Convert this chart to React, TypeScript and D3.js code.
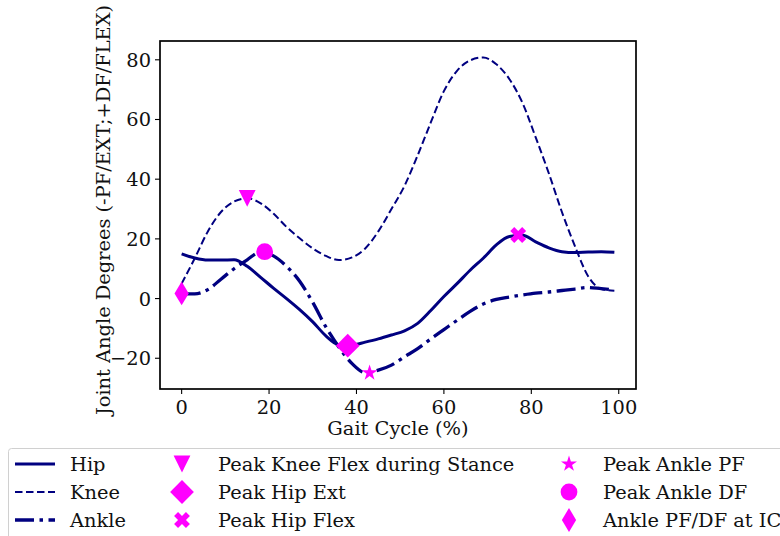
import React from 'react';
import * as d3 from 'd3';

// gait cycle samples (%) and joint angles
const gaitPct = [0, 3, 6, 9, 12, 15, 18, 21, 24, 27, 30, 33, 36, 39, 42, 45, 48, 51, 54, 57, 60, 63, 66, 69, 72, 75, 78, 81, 84, 87, 90, 93, 96, 99];
const hipAngle = [15.0, 13.6, 12.9, 12.9, 13.0, 10.8, 7.2, 3.5, 0.0, -3.7, -7.8, -12.5, -15.5, -15.6, -14.6, -13.5, -12.2, -10.8, -8.3, -4.0, 0.7, 5.0, 9.5, 13.5, 18.0, 20.8, 21.2, 19.0, 17.0, 15.7, 15.4, 15.6, 15.7, 15.5];
const kneeAngle = [5.0, 13.5, 22.5, 29.0, 32.5, 33.6, 32.0, 28.5, 24.0, 20.2, 16.8, 14.3, 12.9, 13.8, 16.8, 22.5, 30.0, 37.8, 48.0, 59.0, 69.5, 76.3, 79.8, 80.8, 78.5, 73.5, 65.5, 54.0, 42.0, 29.0, 17.5, 7.5, 3.2, 2.6];
const ankleAngle = [1.6, 1.6, 3.0, 6.5, 10.0, 13.0, 15.6, 14.3, 10.8, 5.8, -1.3, -9.5, -16.3, -21.8, -24.8, -24.0, -22.3, -19.5, -16.8, -13.5, -10.4, -7.3, -4.3, -1.8, -0.3, 0.5, 1.2, 1.8, 2.2, 2.7, 3.2, 3.7, 3.3, 2.9];

const xTicks = [0, 20, 40, 60, 80, 100];
const yTicks = [-20, 0, 20, 40, 60, 80];

// event markers
const eventNames = ['Peak Knee Flex during Stance', 'Peak Hip Ext', 'Peak Hip Flex', 'Peak Ankle PF', 'Peak Ankle DF', 'Ankle PF/DF at IC'];
const eventKinds = ['v', 'D', 'X', '*', 'o', 'd'];
const eventX = [15, 38, 77, 43, 19, 0];
const eventY = [33.6, -15.8, 21.3, -24.9, 15.7, 1.7];

const W = 780, H = 536;
const margin = { top: 41, right: 144, bottom: 147, left: 160 };
const NAVY = '#000080';
const MAGENTA = '#ff00ff';
const FONT = 'DejaVu Serif';
const FS = 19.4;

const markerPath = (kind: string, h: number): string => {
  const r = h * Math.SQRT2;
  if (kind === 'v') return `M0,${h}L${-h},${-h}L${h},${-h}Z`;
  if (kind === 'D') return `M0,${-r}L${r},0L0,${r}L${-r},0Z`;
  if (kind === 'd') return `M0,${-r}L${r * 0.6},0L0,${r}L${-r * 0.6},0Z`;
  if (kind === 'X') {
    const s = (2 * h) / 6;
    const pts = [[-1, -3], [1, -3], [1, -1], [3, -1], [3, 1], [1, 1], [1, 3], [-1, 3], [-1, 1], [-3, 1], [-3, -1], [-1, -1]]
      .map(([a, b]) => [(a * s - b * s) / Math.SQRT2, (a * s + b * s) / Math.SQRT2]);
    return 'M' + pts.map(p => p.join(',')).join('L') + 'Z';
  }
  if (kind === '*') return d3.symbol(d3.symbolStar, (h * h) / 0.8908130915)() as string;
  return d3.symbol(d3.symbolCircle, Math.PI * h * h)() as string;
};

const series = [
  { name: 'Hip', values: hipAngle, width: 3, dash: undefined as string | undefined },
  { name: 'Knee', values: kneeAngle, width: 2, dash: '7.5,3.5' },
  { name: 'Ankle', values: ankleAngle, width: 3.3, dash: '19,5.5,3.5,5.5' },
];

export default function App() {
  const x = d3.scaleLinear().domain([-4.95, 103.95]).range([margin.left, W - margin.right]);
  const y = d3.scaleLinear().domain([-30.3, 86.3]).range([H - margin.bottom, margin.top]);

  const line = (vals: number[]) =>
    d3.line<number>()
      .x((_, i) => x(gaitPct[i]))
      .y(d => y(d))
      .curve(d3.curveMonotoneX)(vals) as string;

  const x0 = margin.left, x1 = W - margin.right, y0 = margin.top, y1 = H - margin.bottom;
  const half = 8.4;
  const rowY = [464, 492, 520];

  return (
    <svg width={W} height={H} style={{ position: 'absolute', left: 0, top: 0, background: '#fff' }} fontFamily={FONT}>
      <rect x={0} y={0} width={W} height={H} fill="#fff" />

      {series.map(s => (
        <path key={s.name} d={line(s.values)} fill="none" stroke={NAVY} strokeWidth={s.width}
          strokeDasharray={s.dash} strokeLinejoin="round" />
      ))}

      {eventNames.map((n, i) => (
        <path key={n} d={markerPath(eventKinds[i], half)} fill={MAGENTA}
          transform={`translate(${x(eventX[i])},${y(eventY[i])})`} />
      ))}

      {/* frame */}
      <rect x={x0} y={y0} width={x1 - x0} height={y1 - y0} fill="none" stroke="#000" strokeWidth={1.7} />

      {/* x axis */}
      {xTicks.map(t => (
        <g key={t} transform={`translate(${x(t)},0)`}>
          <line y1={y1} y2={y1 + 5} stroke="#000" strokeWidth={1.1} />
          <text y={414} textAnchor="middle" fontSize={FS} fill="#111">{t}</text>
        </g>
      ))}
      <text x={(x0 + x1) / 2} y={435} textAnchor="middle" fontSize={FS} fill="#111">Gait Cycle (%)</text>

      {/* y axis */}
      {yTicks.map(t => (
        <g key={t} transform={`translate(0,${y(t)})`}>
          <line x1={x0} x2={x0 - 5} stroke="#000" strokeWidth={1.1} />
          <text x={151} dy="0.36em" textAnchor="end" fontSize={FS} fill="#111">{t < 0 ? '\u2212' + Math.abs(t) : t}</text>
        </g>
      ))}
      <text transform={`translate(110,${(y0 + y1) / 2 - 5}) rotate(-90)`} textAnchor="middle" fontSize={FS} fill="#111">
        Joint Angle Degrees (-PF/EXT;+DF/FLEX)
      </text>

      {/* legend */}
      <rect x={8.5} y={448.5} width={800} height={120} rx={3} fill="#fff" stroke="#d0d0d0" strokeWidth={1} />
      {series.map((s, i) => (
        <g key={s.name}>
          <line x1={15} x2={55} y1={rowY[i]} y2={rowY[i]} stroke={NAVY} strokeWidth={s.width} strokeDasharray={s.dash} />
          <text x={70} y={rowY[i] + 7} fontSize={FS} fill="#111">{s.name}</text>
        </g>
      ))}
      {eventNames.map((n, i) => {
        const col = Math.floor(i / 3);
        const mx = col === 0 ? 182 : 569;
        const tx = col === 0 ? 218 : 603;
        const ry = rowY[i % 3];
        return (
          <g key={n}>
            <path d={markerPath(eventKinds[i], half)} fill={MAGENTA} transform={`translate(${mx},${ry})`} />
            <text x={tx} y={ry + 7} fontSize={FS} fill="#111">{n}</text>
          </g>
        );
      })}
    </svg>
  );
}
